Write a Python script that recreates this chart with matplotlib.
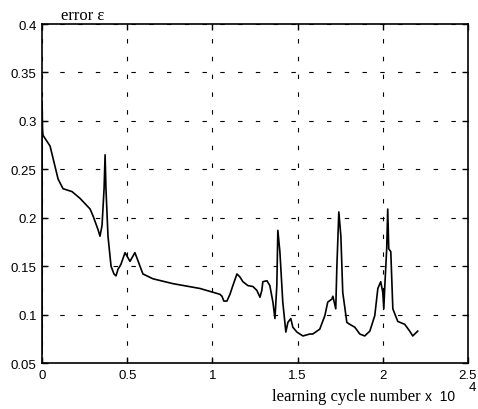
import matplotlib
matplotlib.use('Agg')
import matplotlib.pyplot as plt

# learning cycles (x 10^4) and error values
cycles = [0.0, 0.0, 0.003, 0.006, 0.047, 0.094, 0.123, 0.176, 0.223, 0.282, 0.299,
          0.328, 0.340, 0.352, 0.364, 0.370, 0.375, 0.387, 0.399, 0.405, 0.422,
          0.434, 0.446, 0.457, 0.463, 0.487, 0.516, 0.545, 0.592, 0.651, 0.768,
          0.927, 1.044, 1.056, 1.067, 1.085, 1.103, 1.120, 1.144, 1.161, 1.179,
          1.208, 1.238, 1.261, 1.279, 1.290, 1.296, 1.320, 1.337, 1.355, 1.367,
          1.378, 1.384, 1.396, 1.413, 1.431, 1.443, 1.460, 1.472, 1.496, 1.531,
          1.572, 1.589, 1.630, 1.660, 1.677, 1.701, 1.707, 1.724, 1.730, 1.742,
          1.754, 1.765, 1.789, 1.806, 1.836, 1.865, 1.894, 1.924, 1.953, 1.971,
          1.988, 2.000, 2.006, 2.012, 2.023, 2.029, 2.035, 2.047, 2.059, 2.088,
          2.129, 2.158, 2.176, 2.205]
error = [0.06, 0.320, 0.290, 0.285, 0.274, 0.240, 0.230, 0.227, 0.220, 0.209, 0.202,
         0.188, 0.181, 0.192, 0.230, 0.265, 0.230, 0.181, 0.160, 0.150, 0.142,
         0.140, 0.147, 0.150, 0.152, 0.164, 0.155, 0.164, 0.142, 0.137, 0.132,
         0.127, 0.121, 0.119, 0.114, 0.114, 0.121, 0.130, 0.142, 0.139, 0.134,
         0.130, 0.129, 0.125, 0.118, 0.125, 0.134, 0.135, 0.130, 0.113, 0.096,
         0.130, 0.187, 0.165, 0.113, 0.082, 0.092, 0.096, 0.087, 0.082, 0.078,
         0.080, 0.080, 0.085, 0.099, 0.113, 0.116, 0.119, 0.106, 0.147, 0.206,
         0.181, 0.123, 0.092, 0.090, 0.087, 0.080, 0.078, 0.083, 0.099, 0.127,
         0.134, 0.123, 0.106, 0.130, 0.168, 0.209, 0.168, 0.165, 0.106, 0.093,
         0.090, 0.083, 0.078, 0.083]

xticks = [0, 0.5, 1, 1.5, 2, 2.5]
xtick_labels = ['0', '0.5', '1', '1.5', '2', '2.5']
yticks = [0.05, 0.1, 0.15, 0.2, 0.25, 0.3, 0.35, 0.4]
ytick_labels = ['0.05', '0.1', '0.15', '0.2', '0.25', '0.3', '0.35', '0.4']

plt.rcParams['font.family'] = ['Liberation Sans', 'DejaVu Sans']

fig = plt.figure(figsize=(4.78, 4.10), dpi=100)
ax = fig.add_axes([0.088, 0.112, 0.891, 0.827])

ax.plot(cycles, error, color='black', linewidth=1.2)

ax.set_xlim(0, 2.5)
ax.set_ylim(0.05, 0.4)
ax.set_xticks(xticks)
ax.set_xticklabels(xtick_labels)
ax.set_yticks(yticks)
ax.set_yticklabels(ytick_labels)
ax.tick_params(direction='in', length=4, width=1, labelsize=9.5,
               top=True, right=True, colors='black', pad=4)
ax.grid(True, color='black', linestyle=(0, (4, 12)), linewidth=0.8)
for s in ax.spines.values():
    s.set_linewidth(1.2)

# labels drawn as text like the original
fig.text(0.127, 0.962, 'error ε', family=['Liberation Serif', 'DejaVu Serif'],
         fontsize=12, ha='left', va='center')
fig.text(0.569, 0.022, 'learning cycle number', family=['Liberation Serif', 'DejaVu Serif'],
         fontsize=12, ha='left', va='baseline')
fig.text(0.889, 0.022, 'x  10', fontsize=10, ha='left', va='baseline')
fig.text(0.981, 0.046, '4', fontsize=9.5, ha='left', va='baseline')

fig.savefig('out.png', dpi=100)
